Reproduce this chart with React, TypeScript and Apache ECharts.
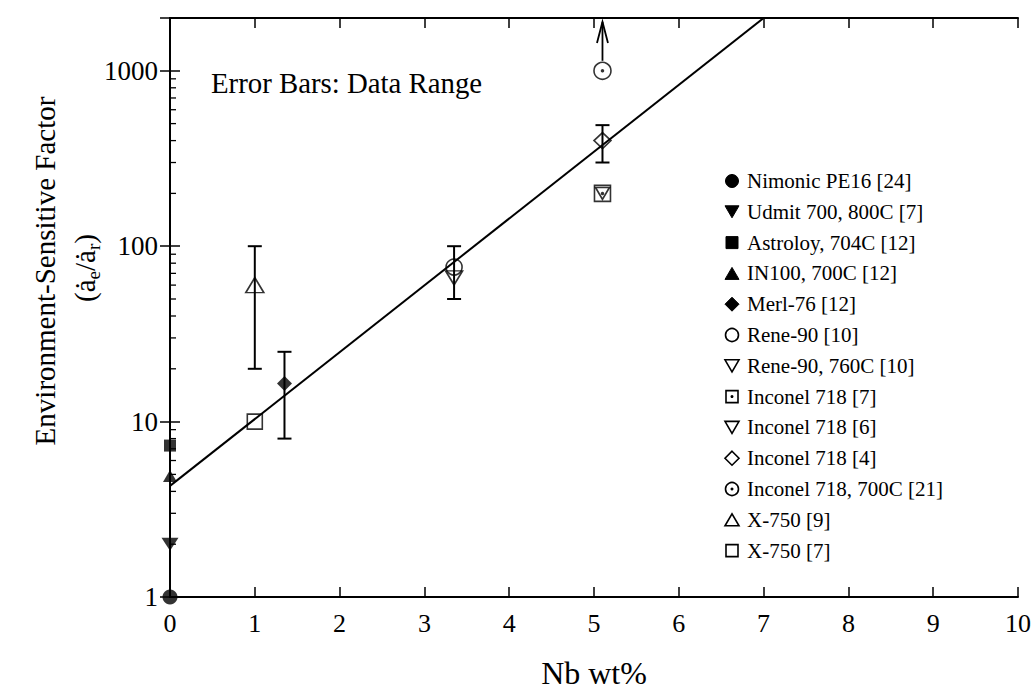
import React, { useEffect, useRef } from "react";
import * as echarts from "echarts";

const FONT = '"Liberation Serif", "Times New Roman", Times, serif';

// ---- data ----
const xTicks = [0, 1, 2, 3, 4, 5, 6, 7, 8, 9, 10];
const yMajorLabels = [1, 10, 100, 1000];
const yMinorTicks = [2, 3, 4, 5, 6, 7, 8, 9, 20, 30, 40, 50, 60, 70, 80, 90, 200, 300, 400, 500, 600, 700, 800, 900];

const nimonic = [[0, 1]];
const udmit = [[0, 2]];
const astroloy = [[0, 7.3]];
const in100 = [[0, 4.9]];
const merl76 = [[1.35, 16.5]];
const rene90 = [[3.35, 76]];
const rene90_760 = [[3.35, 66]];
const inconel7 = [[5.1, 200]];
const inconel6 = [[5.1, 200]];
const inconel4 = [[5.1, 400]];
const inconel21 = [[5.1, 1000]];
const x750_9 = [[1, 60]];
const x750_7 = [[1, 10]];

// [x, low, high]
const errorBars = [
  [1, 20, 100],
  [1.35, 8, 25],
  [3.35, 50, 100],
  [5.1, 300, 490],
];
// [x, from, to]  (lower-bound arrow)
const arrows = [[5.1, 1140, 1900]];
const fitLine = [[0, 4.3], [7, 2000]];

const seriesNames = [
  "Nimonic PE16 [24]",
  "Udmit 700, 800C [7]",
  "Astroloy, 704C [12]",
  "IN100, 700C [12]",
  "Merl-76 [12]",
  "Rene-90 [10]",
  "Rene-90, 760C [10]",
  "Inconel 718 [7]",
  "Inconel 718 [6]",
  "Inconel 718 [4]",
  "Inconel 718, 700C [21]",
  "X-750 [9]",
  "X-750 [7]",
];
const seriesData = [nimonic, udmit, astroloy, in100, merl76, rene90, rene90_760, inconel7, inconel6, inconel4, inconel21, x750_9, x750_7];

// marker styles
type Shape = "circle" | "triDown" | "rect" | "triUp" | "diamond";
const markers: { shape: Shape; filled: boolean; dot: boolean; size: number | number[] }[] = [
  { shape: "circle", filled: true, dot: false, size: 15 },
  { shape: "triDown", filled: true, dot: false, size: [17, 13] },
  { shape: "rect", filled: true, dot: false, size: 12 },
  { shape: "triUp", filled: true, dot: false, size: [14, 12] },
  { shape: "diamond", filled: true, dot: false, size: [15, 15] },
  { shape: "circle", filled: false, dot: false, size: 16 },
  { shape: "triDown", filled: false, dot: false, size: [17, 14] },
  { shape: "rect", filled: false, dot: true, size: 16 },
  { shape: "triDown", filled: false, dot: false, size: [14, 12] },
  { shape: "diamond", filled: false, dot: false, size: [17, 16] },
  { shape: "circle", filled: false, dot: true, size: 17 },
  { shape: "triUp", filled: false, dot: false, size: [18, 15] },
  { shape: "rect", filled: false, dot: false, size: 15 },
];

const symbolName = (s: Shape) =>
  s === "circle" ? "circle" : s === "rect" ? "rect" : s === "diamond" ? "diamond" : "triangle";

function legendSymbol(m: { shape: Shape; filled: boolean; dot: boolean }, cx: number, cy: number) {
  const style = m.filled
    ? { fill: "#000", stroke: "#000", lineWidth: 1 }
    : { fill: "none", stroke: "#000", lineWidth: 1.6 };
  const r = 6.5;
  const els: any[] = [];
  if (m.shape === "circle") els.push({ type: "circle", shape: { cx, cy, r }, style });
  else if (m.shape === "rect") els.push({ type: "rect", shape: { x: cx - r + 0.5, y: cy - r + 0.5, width: 2 * r - 1, height: 2 * r - 1 }, style });
  else if (m.shape === "triDown")
    els.push({ type: "polygon", shape: { points: [[cx - 7, cy - 6], [cx + 7, cy - 6], [cx, cy + 6]] }, style });
  else if (m.shape === "triUp")
    els.push({ type: "polygon", shape: { points: [[cx - 7, cy + 6], [cx + 7, cy + 6], [cx, cy - 6]] }, style });
  else els.push({ type: "polygon", shape: { points: [[cx, cy - 7], [cx + 7, cy], [cx, cy + 7], [cx - 7, cy]] }, style });
  if (m.dot) els.push({ type: "circle", shape: { cx, cy, r: 1.5 }, style: { fill: "#000" } });
  return els;
}

export default function App() {
  const ref = useRef<HTMLDivElement>(null);
  useEffect(() => {
    if (!ref.current) return;
    const chart = echarts.init(ref.current, null, { renderer: "svg" });

    const scatterSeries = seriesNames.map((name, i) => {
      const m = markers[i];
      return {
        type: "scatter",
        name,
        data: seriesData[i],
        symbol: symbolName(m.shape),
        symbolRotate: m.shape === "triDown" ? 180 : 0,
        symbolSize: m.size,
        clip: false,
        z: 5,
        itemStyle: m.filled
          ? { color: "#000" }
          : { color: "rgba(0,0,0,0)", borderColor: "#000", borderWidth: 1.6 },
      };
    });
    const dotData = seriesData.filter((_, i) => markers[i].dot).flat();

    const legendEls: any[] = [];
    seriesNames.forEach((name, i) => {
      const cy = 181 + i * 30.8;
      legendEls.push(...legendSymbol(markers[i], 732, cy));
      legendEls.push({
        type: "text",
        x: 747,
        y: cy,
        style: { text: name, fontSize: 21, fontFamily: FONT, fill: "#000", verticalAlign: "middle", align: "left" },
      });
    });

    const axisCommon = {
      axisLine: { show: true, lineStyle: { color: "#000", width: 2 } },
      axisTick: { show: true, inside: true, length: 10, lineStyle: { color: "#000", width: 1.5 } },
      splitLine: { show: false },
    };

    chart.setOption({
      animation: false,
      backgroundColor: "#fff",
      grid: { left: 170, right: 18, top: 18, bottom: 94, containLabel: false },
      xAxis: [
        {
          type: "value",
          position: "bottom",
          min: 0,
          max: 10,
          interval: 1,
          ...axisCommon,
          axisLabel: {
            color: "#000",
            fontSize: 26,
            fontFamily: FONT,
            margin: 13,
            formatter: (v: number) => (xTicks.includes(v) ? String(v) : ""),
          },
          name: "Nb wt%",
          nameLocation: "middle",
          nameGap: 60,
          nameTextStyle: { color: "#000", fontSize: 32, fontFamily: FONT },
        },
        {
          type: "value",
          position: "top",
          min: 0,
          max: 10,
          interval: 1,
          ...axisCommon,
          axisLabel: { show: false },
        },
      ],
      yAxis: [
        {
          type: "log",
          logBase: 10,
          position: "left",
          min: 1,
          max: 2000,
          ...axisCommon,
          axisLabel: {
            color: "#000",
            fontSize: 27,
            fontFamily: FONT,
            margin: 12,
            showMaxLabel: false,
            formatter: (v: number) => {
              const r = Math.round(v);
              return yMajorLabels.includes(r) ? String(r) : "";
            },
          },
        },
        {
          type: "log",
          logBase: 10,
          position: "right",
          min: 1,
          max: 2000,
          ...axisCommon,
          axisLabel: { show: false },
        },
      ],
      graphic: [
        {
          type: "text",
          x: 45,
          y: 271,
          rotation: Math.PI / 2,
          style: {
            text: "Environment-Sensitive Factor",
            fontSize: 29,
            fontFamily: FONT,
            fill: "#000",
            align: "center",
            verticalAlign: "middle",
          },
        },
        {
          type: "text",
          x: 85,
          y: 268,
          rotation: Math.PI / 2,
          style: {
            text: "{m|(ȧ}{s|e}{m|/ȧ}{s|r}{m|)}",
            fontFamily: FONT,
            fill: "#000",
            align: "center",
            verticalAlign: "middle",
            rich: {
              m: { fontSize: 29, fontFamily: FONT, lineHeight: 36, verticalAlign: "middle" },
              s: { fontSize: 19, fontFamily: FONT, lineHeight: 36, verticalAlign: "bottom" },
            },
          },
        },
        {
          type: "text",
          x: 211,
          y: 83,
          style: {
            text: "Error Bars: Data Range",
            fontSize: 28.8,
            fontFamily: FONT,
            fill: "#000",
            align: "left",
            verticalAlign: "middle",
          },
        },
        ...legendEls,
      ],
      series: [
        {
          type: "custom",
          name: "minorTicks",
          coordinateSystem: "cartesian2d",
          xAxisIndex: 0,
          yAxisIndex: 0,
          silent: true,
          clip: false,
          data: yMinorTicks.map((v) => [0, v]),
          encode: { x: 0, y: 1 },
          renderItem: (_p: any, api: any) => {
            const pt = api.coord([0, api.value(1)]);
            return {
              type: "line",
              shape: { x1: pt[0], y1: pt[1], x2: pt[0] + 6, y2: pt[1] },
              style: { stroke: "#000", lineWidth: 1.3 },
            };
          },
        },
        {
          type: "line",
          name: "fit",
          data: fitLine,
          symbol: "none",
          lineStyle: { color: "#000", width: 2 },
          z: 3,
        },
        {
          type: "custom",
          name: "errorBars",
          coordinateSystem: "cartesian2d",
          silent: true,
          clip: false,
          data: errorBars,
          encode: { x: 0, y: [1, 2] },
          z: 4,
          renderItem: (_p: any, api: any) => {
            const x = api.value(0);
            const lo = api.coord([x, api.value(1)]);
            const hi = api.coord([x, api.value(2)]);
            const w = 7;
            const st = { stroke: "#000", lineWidth: 2 };
            return {
              type: "group",
              children: [
                { type: "line", shape: { x1: lo[0], y1: lo[1], x2: hi[0], y2: hi[1] }, style: st },
                { type: "line", shape: { x1: hi[0] - w, y1: hi[1], x2: hi[0] + w, y2: hi[1] }, style: st },
                { type: "line", shape: { x1: lo[0] - w, y1: lo[1], x2: lo[0] + w, y2: lo[1] }, style: st },
              ],
            };
          },
        },
        {
          type: "custom",
          name: "arrows",
          coordinateSystem: "cartesian2d",
          silent: true,
          clip: false,
          data: arrows,
          encode: { x: 0, y: [1, 2] },
          z: 4,
          renderItem: (_p: any, api: any) => {
            const x = api.value(0);
            const a = api.coord([x, api.value(1)]);
            const b = api.coord([x, api.value(2)]);
            const st = { stroke: "#000", lineWidth: 1.8, fill: "none" };
            return {
              type: "group",
              children: [
                { type: "line", shape: { x1: a[0], y1: a[1], x2: b[0], y2: b[1] }, style: st },
                {
                  type: "polyline",
                  shape: { points: [[b[0] - 5.5, b[1] + 21], [b[0], b[1]], [b[0] + 5.5, b[1] + 21]] },
                  style: st,
                },
              ],
            };
          },
        },
        ...scatterSeries,
        {
          type: "scatter",
          name: "dots",
          data: dotData,
          symbol: "circle",
          symbolSize: 3.5,
          clip: false,
          z: 6,
          itemStyle: { color: "#000" },
        },
      ],
    });
    return () => chart.dispose();
  }, []);
  return (
    <div
      ref={ref}
      style={{ position: "fixed", left: 0, top: 0, width: 1036, height: 694, background: "#fff" }}
    />
  );
}
